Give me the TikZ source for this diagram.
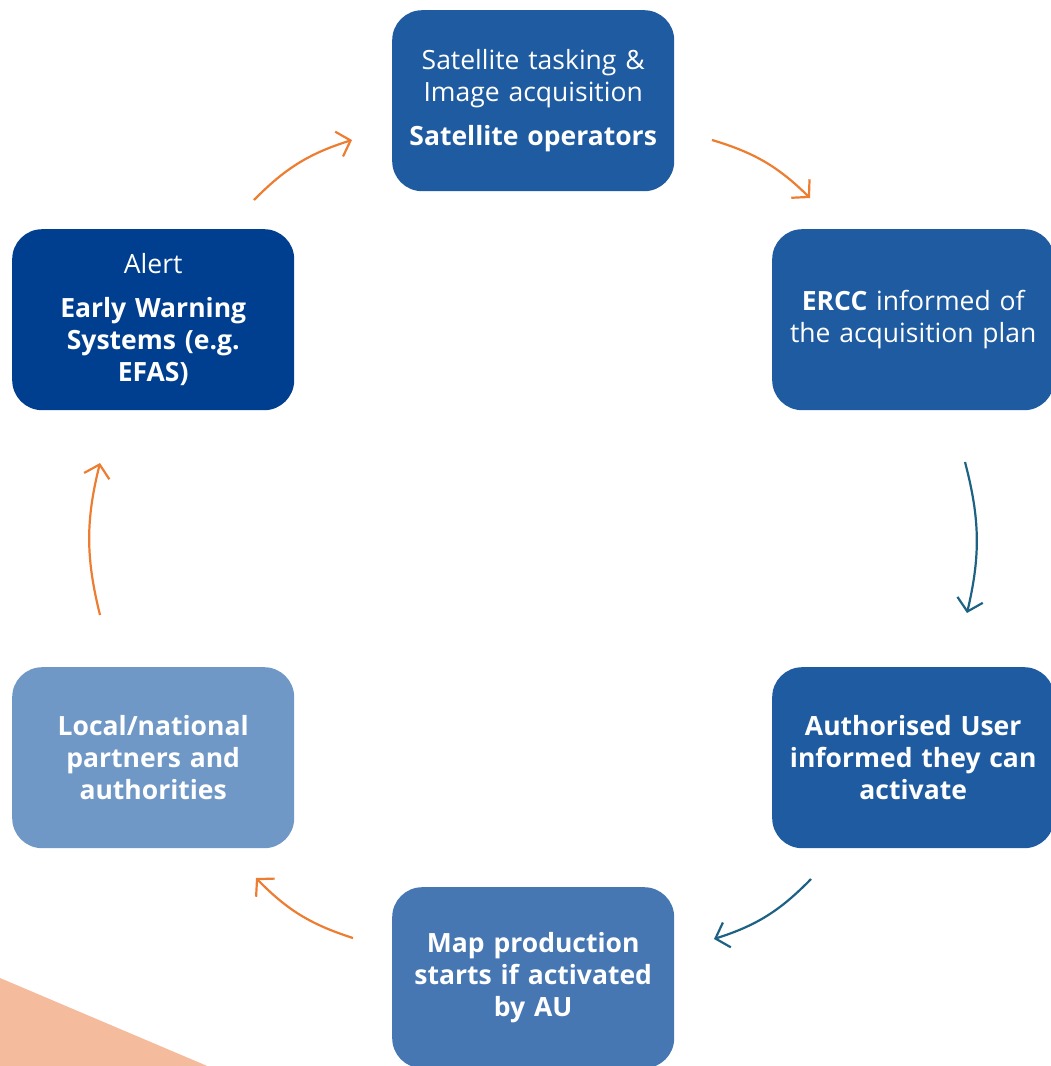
\documentclass[tikz,border=0pt]{standalone}
\usepackage{fontspec}
\setmainfont{Open Sans}
\usetikzlibrary{arrows.meta}
\definecolor{bmid}{HTML}{1F5BA0}
\definecolor{bdark}{HTML}{003F8F}
\definecolor{bmap}{HTML}{4677B3}
\definecolor{blight}{HTML}{7098C6}
\definecolor{orarrow}{HTML}{ED7D31}
\definecolor{blarrow}{HTML}{1D6284}
\definecolor{peach}{HTML}{F4BB9C}
\tikzset{
  box/.style={rectangle, rounded corners=30pt, minimum width=282pt, minimum height=181pt,
    text width=276pt, align=center, text=white, font=\fontsize{26.5}{32}\selectfont, inner sep=0pt, anchor=north west},
  oarr/.style={draw=orarrow, line width=2.2pt, -{Straight Barb[length=12pt,width=26pt,line width=2.2pt]}, bend left=14},
  barr/.style={draw=blarrow, line width=2.2pt, -{Straight Barb[length=12pt,width=26pt,line width=2.2pt]}, bend left=14}
}
\begin{document}
\begin{tikzpicture}[x=1pt,y=-1pt]
\useasboundingbox (0,0) rectangle (1051,1066);
\clip (0,0) rectangle (1051,1066);
\fill[peach] (0,978) -- (212,1068) -- (0,1068) -- cycle;
\node[box, fill=bmid] (sat) at (392,10) {Satellite tasking \&\\Image acquisition\\[12pt]\textbf{Satellite operators}};
\node[box, fill=bmid] (ercc) at (772,229) {\textbf{ERCC} informed of\\the acquisition plan};
\node[box, fill=bmid] (au) at (772,667) {\textbf{Authorised User\\informed they can\\activate}};
\node[box, fill=bmap] (map) at (392,887) {\textbf{Map production\\starts if activated\\by AU}};
\node[box, fill=blight] (loc) at (12,667) {\textbf{Local/national\\partners and\\authorities}};
\node[box, fill=bdark] (alert) at (12,229) {Alert\\[12pt]\textbf{Early Warning\\Systems (e.g.\\EFAS)}};
\coordinate (a1s) at (254,200); \coordinate (a1e) at (352,140);
\coordinate (a2s) at (712,140); \coordinate (a2e) at (810,198);
\coordinate (a3s) at (965,462); \coordinate (a3e) at (967,613);
\coordinate (a4s) at (811,879); \coordinate (a4e) at (714,939);
\coordinate (a5s) at (353,938); \coordinate (a5e) at (256,878);
\coordinate (a6s) at (100,615); \coordinate (a6e) at (100,463);
\draw[oarr] (a1s) to (a1e);
\draw[oarr] (a2s) to (a2e);
\draw[barr] (a3s) to (a3e);
\draw[barr] (a4s) to (a4e);
\draw[oarr] (a5s) to (a5e);
\draw[oarr] (a6s) to (a6e);
\end{tikzpicture}
\end{document}
